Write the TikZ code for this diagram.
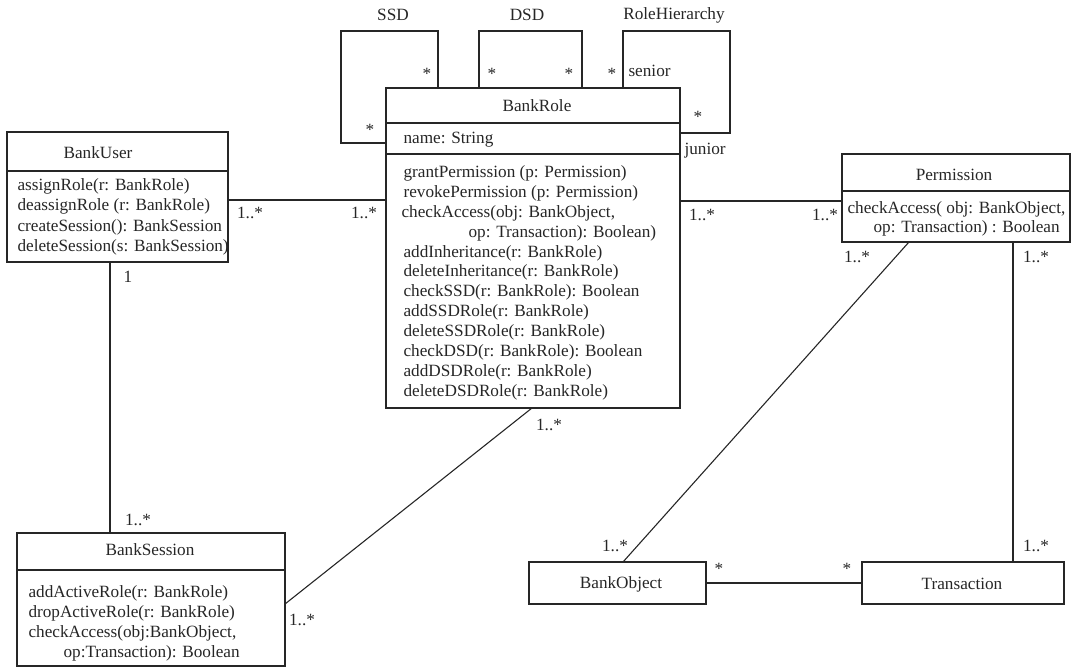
\documentclass[tikz,border=0pt]{standalone}
\usepackage{fontspec}
\setmainfont{Liberation Serif}
\begin{document}
\begin{tikzpicture}[x=1pt,y=-1pt,
  line width=1.1pt,
  box/.style={draw=black!85, anchor=north west, inner sep=0pt, outer sep=0pt},
  txt/.style={anchor=base west, inner sep=0pt, text=black!85},
  lbl/.style={anchor=center, inner sep=0pt, text=black!85},
  ttl/.style={anchor=center, inner sep=0pt, text=black!85},
  conn/.style={draw=black!85},
  every node/.append style={font=\fontsize{17.2}{20}\selectfont}]
\useasboundingbox (0,0) rectangle (1072,668);

% ---------- class boxes ----------
\node[box, minimum width=294pt, minimum height=320pt] (br) at (386,88) {};
\node[box, minimum width=221pt, minimum height=130pt] (bu) at (7,132) {};
\node[box, minimum width=268pt, minimum height=133pt] (bs) at (17,533) {};
\node[box, minimum width=228pt, minimum height=88pt] (pm) at (842,154) {};
\node[box, minimum width=177pt, minimum height=42pt] (bo) at (529,562) {};
\node[box, minimum width=202pt, minimum height=42pt] (tr) at (862,562) {};

% compartment dividers
\coordinate (d1) at (0,123); \coordinate (d2) at (0,154);
\coordinate (d3) at (0,171); \coordinate (d4) at (0,570);
\coordinate (d5) at (0,191);
\draw[conn] (br.west|-d1) -- (br.east|-d1);
\draw[conn] (br.west|-d2) -- (br.east|-d2);
\draw[conn] (bu.west|-d3) -- (bu.east|-d3);
\draw[conn] (bs.west|-d4) -- (bs.east|-d4);
\draw[conn] (pm.west|-d5) -- (pm.east|-d5);

% ---------- titles ----------
\node[ttl] (brt) at (537,106) {BankRole};
\node[ttl] (but) at (98,153) {BankUser};
\node[ttl] (bst) at (150,550) {BankSession};
\node[ttl] (pmt) at (954,175) {Permission};
\node[ttl] (bot) at (621,584) {BankObject};
\node[ttl] (trt) at (962,584) {Transaction};

% ---------- BankRole contents ----------
\node[txt] (bra) at (403,144) {name: String};
\node[txt] (br1) at (403,178) {grantPermission (p: Permission)};
\node[txt] (br2) at (403,198) {revokePermission (p: Permission)};
\node[txt] (br3) at (401,218) {checkAccess(obj: BankObject,};
\node[txt] (br4) at (468,238) {op: Transaction): Boolean)};
\node[txt] (br5) at (403,258) {addInheritance(r: BankRole)};
\node[txt] (br6) at (403,277) {deleteInheritance(r: BankRole)};
\node[txt] (br7) at (403,297) {checkSSD(r: BankRole): Boolean};
\node[txt] (br8) at (403,317) {addSSDRole(r: BankRole)};
\node[txt] (br9) at (403,337) {deleteSSDRole(r: BankRole)};
\node[txt] (br10) at (403,357) {checkDSD(r: BankRole): Boolean};
\node[txt] (br11) at (403,377) {addDSDRole(r: BankRole)};
\node[txt] (br12) at (403,397) {deleteDSDRole(r: BankRole)};

% ---------- BankUser contents ----------
\node[txt] (bu1) at (17,191) {assignRole(r: BankRole)};
\node[txt] (bu2) at (17,211) {deassignRole (r: BankRole)};
\node[txt] (bu3) at (17,232) {createSession(): BankSession};
\node[txt] (bu4) at (17,252) {deleteSession(s: BankSession)};

% ---------- BankSession contents ----------
\node[txt] (bs1) at (28,597) {addActiveRole(r: BankRole)};
\node[txt] (bs2) at (28,617) {dropActiveRole(r: BankRole)};
\node[txt] (bs3) at (28,637) {checkAccess(obj:BankObject,};
\node[txt] (bs4) at (63,657) {op:Transaction): Boolean};

% ---------- Permission contents ----------
\node[txt] (pm1) at (847,214) {checkAccess( obj: BankObject,};
\node[txt] (pm2) at (873,233) {op: Transaction) : Boolean};

% ---------- self associations on BankRole ----------
\coordinate (ssdA) at (438,31); \coordinate (ssdB) at (341,143);
\draw[conn] (br.north-|ssdA) -- (ssdA) -- (ssdA-|ssdB) -- (ssdB) -- (br.west|-ssdB);
\coordinate (dsdA) at (479,31); \coordinate (dsdB) at (582,31);
\draw[conn] (br.north-|dsdA) -- (dsdA) -- (dsdB) -- (br.north-|dsdB);
\coordinate (rhA) at (623,31); \coordinate (rhB) at (730,133);
\draw[conn] (br.north-|rhA) -- (rhA) -- (rhA-|rhB) -- (rhB) -- (br.east|-rhB);

\node[lbl] (lssd) at (393,15) {SSD};
\node[lbl] (ldsd) at (527,15) {DSD};
\node[lbl] (lrh) at (674,15) {RoleHierarchy};
\node[lbl] (s1) at (427,74) {*};
\node[lbl] (s2) at (370,130) {*};
\node[lbl] (s3) at (492,74) {*};
\node[lbl] (s4) at (569,74) {*};
\node[lbl] (s5) at (612,74) {*};
\node[txt] (sen) at (628,77) {senior};
\node[lbl] (s6) at (698,117) {*};
\node[txt] (jun) at (684,155) {junior};

% ---------- associations ----------
\coordinate (a1) at (0,200);
\draw[conn] (bu.east|-a1) -- (br.west|-a1);
\node[lbl] (m1) at (250,213) {1..*};
\node[lbl] (m2) at (364,213) {1..*};

\coordinate (a2) at (110,0);
\draw[conn] (bu.south-|a2) -- (bs.north-|a2);
\node[lbl] (m3) at (128,277) {1};
\node[lbl] (m4) at (138,520) {1..*};

\coordinate (a3s) at (285,604); \coordinate (a3e) at (532,408);
\draw[conn] (bs.east|-a3s) -- (br.south-|a3e);
\node[lbl] (m5) at (302,620) {1..*};
\node[lbl] (m6) at (549,425) {1..*};

\coordinate (a4) at (0,201);
\draw[conn] (br.east|-a4) -- (pm.west|-a4);
\node[lbl] (m7) at (702,215) {1..*};
\node[lbl] (m8) at (825,215) {1..*};

\coordinate (a5s) at (909,242); \coordinate (a5e) at (623,562);
\draw[conn] (pm.south-|a5s) -- (bo.north-|a5e);
\node[lbl] (m9) at (857,257) {1..*};
\node[lbl] (m10) at (615,546) {1..*};

\coordinate (a6) at (1013,0);
\draw[conn] (pm.south-|a6) -- (tr.north-|a6);
\node[lbl] (m11) at (1036,257) {1..*};
\node[lbl] (m12) at (1036,546) {1..*};

\coordinate (a7) at (0,583);
\draw[conn] (bo.east|-a7) -- (tr.west|-a7);
\node[lbl] (m13) at (719,569) {*};
\node[lbl] (m14) at (847,569) {*};
\end{tikzpicture}
\end{document}
